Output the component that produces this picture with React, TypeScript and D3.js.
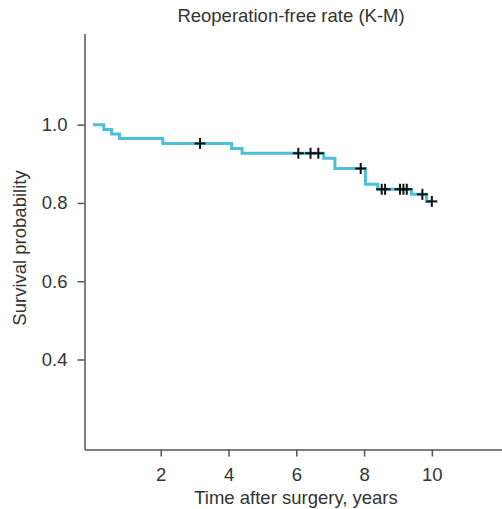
import React, { useEffect, useRef } from "react";
import * as d3 from "d3";

// Kaplan-Meier estimate
const stepTimes = [0, 0.32, 0.55, 0.78, 2.06, 4.09, 4.4, 6.81, 7.14, 8.04, 8.4, 9.4, 9.84];
const stepSurv = [1.0, 0.988, 0.976, 0.965, 0.952, 0.939, 0.927, 0.914, 0.888, 0.848, 0.835, 0.822, 0.804];
const lastTime = 10.0;
const censorTimes = [3.16, 6.06, 6.42, 6.65, 7.9, 8.52, 8.62, 9.06, 9.16, 9.26, 9.72, 10.0];
const xTicks = [2, 4, 6, 8, 10];
const yTicks = [0.4, 0.6, 0.8, 1.0];

const font = "'Liberation Sans', Arial, sans-serif";
const fs = 18.5;

function survAt(t: number) {
  let s = stepSurv[0];
  for (let i = 0; i < stepTimes.length; i++) {
    if (stepTimes[i] <= t) s = stepSurv[i];
  }
  return s;
}

export default function App() {
  const ref = useRef<SVGSVGElement>(null);

  useEffect(() => {
    if (!ref.current) return;
    const svg = d3.select(ref.current);
    svg.selectAll("*").remove();

    const x = d3.scaleLinear().domain([-0.25, 12.07]).range([84.5, 502]);
    const y = d3.scaleLinear().domain([0.17, 1.233]).range([449.5, 33.5]);

    // axes
    const gx = svg
      .append("g")
      .attr("transform", `translate(0,${y(0.17)})`)
      .call(d3.axisBottom(x).tickValues(xTicks).tickSize(7).tickSizeOuter(0).tickFormat(d3.format("d")));
    gx.attr("font-size", fs).attr("font-family", font);
    gx.select(".domain").attr("stroke", "#555").attr("stroke-width", 1.5);
    gx.selectAll(".tick line").attr("stroke", "#555").attr("stroke-width", 1.5);
    gx.selectAll(".tick text").attr("fill", "#333").attr("y", 18).attr("dy", "0.71em");

    const gy = svg
      .append("g")
      .attr("transform", `translate(${x(-0.25)},0)`)
      .call(d3.axisLeft(y).tickValues(yTicks).tickSize(7).tickSizeOuter(0).tickFormat(d3.format(".1f")));
    gy.attr("font-size", fs).attr("font-family", font);
    gy.select(".domain").attr("stroke", "#555").attr("stroke-width", 1.5);
    gy.selectAll(".tick line").attr("stroke", "#555").attr("stroke-width", 1.5);
    gy.selectAll(".tick text").attr("fill", "#333").attr("x", -17);

    // survival curve
    const pts: [number, number][] = stepTimes.map((t, i) => [t, stepSurv[i]]);
    pts.push([lastTime, stepSurv[stepSurv.length - 1]]);
    const line = d3
      .line<[number, number]>()
      .x(d => x(d[0]))
      .y(d => y(d[1]))
      .curve(d3.curveStepAfter);
    svg
      .append("path")
      .attr("d", line(pts))
      .attr("fill", "none")
      .attr("stroke", "#4dbfd8")
      .attr("stroke-width", 3);

    // censor marks
    const cs = 5.5;
    const g = svg.append("g").attr("stroke", "#111").attr("stroke-width", 2);
    censorTimes.forEach(t => {
      const cx = x(t),
        cy = y(survAt(t));
      g.append("line").attr("x1", cx - cs).attr("x2", cx + cs).attr("y1", cy).attr("y2", cy);
      g.append("line").attr("x1", cx).attr("x2", cx).attr("y1", cy - cs).attr("y2", cy + cs);
    });

    // titles
    const label = (tx: number, ty: number, rot: number, s: string) =>
      svg
        .append("text")
        .attr("transform", `translate(${tx},${ty}) rotate(${rot})`)
        .attr("text-anchor", "middle")
        .attr("font-family", font)
        .attr("font-size", fs)
        .attr("fill", "#333")
        .text(s);
    label(291, 22, 0, "Reoperation-free rate (K-M)");
    label(296, 504, 0, "Time after surgery, years");
    label(26, 248, -90, "Survival probability");
  }, []);

  return (
    <svg
      ref={ref}
      width={502}
      height={509}
      style={{ position: "absolute", left: 0, top: 0, background: "#fff" }}
    />
  );
}
